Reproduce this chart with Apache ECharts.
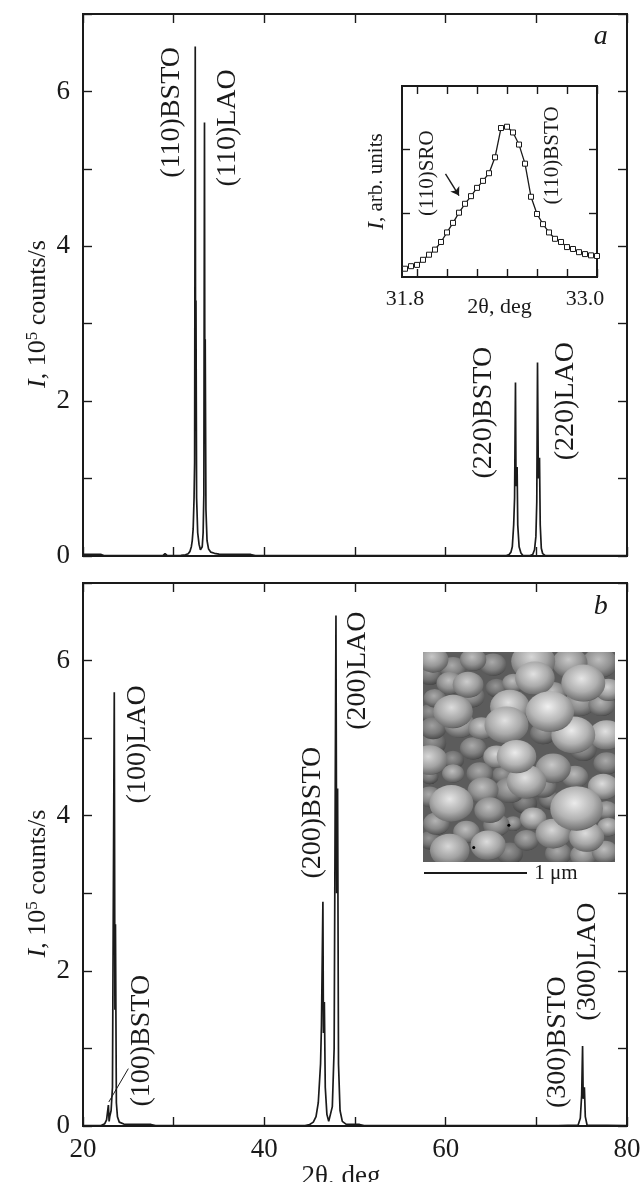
<!DOCTYPE html>
<html><head><meta charset="utf-8">
<style>html,body{margin:0;padding:0;background:#fff}#c{width:644px;height:1182px}</style>
<script src="https://cdn.jsdelivr.net/npm/echarts@6/dist/echarts.min.js"></script>
</head><body><div id="c"></div>
<script>
const xA=[20,21,22,22.3,24,28.8,29.05,29.3,30.8,31.3,31.6,31.8,31.95,32.05,32.15,32.25,32.31,32.38,32.42,32.46,32.53,32.65,32.8,32.95,33.05,33.15,33.25,33.33,33.4,33.44,33.48,33.56,33.68,33.85,34.1,34.5,35,37,38,38.5,39,42,66.7,67,67.2,67.35,67.5,67.6,67.7,67.76,67.88,67.95,68.1,68.3,68.5,69.3,69.6,69.8,69.95,70.05,70.13,70.22,70.35,70.43,70.55,70.7,71,80];
const yA=[.02,.02,.02,.005,.005,.005,.03,.005,.01,.015,.03,.06,.12,.2,.35,.75,1.2,6.58,2,3.3,.75,.3,.15,.08,.07,.12,.3,.8,5.6,2,2.8,.6,.2,.09,.05,.035,.025,.02,.02,.02,.005,.005,.005,.02,.05,.12,.4,.75,2.24,.9,1.15,.4,.12,.04,.01,.005,.02,.08,.25,.7,2.5,1,1.27,.4,.1,.03,.005,.005];
const xB=[20,22,22.4,22.6,22.7,22.8,22.88,22.95,23.1,23.25,23.45,23.52,23.58,23.68,23.8,24,24.5,26,27.5,28,44.5,45,45.4,45.7,45.95,46.2,46.3,46.46,46.52,46.62,46.72,46.9,47.1,47.3,47.5,47.7,47.9,47.98,48.08,48.18,48.35,48.6,49,50.5,51,54,54.2,54.5,72,72.2,72.4,74.6,74.85,75,75.1,75.17,75.3,75.4,75.6,80];
const yB=[.005,.005,.03,.08,.1,.27,.06,.12,.2,.5,5.59,1.5,2.6,.3,.12,.05,.025,.02,.02,.005,.005,.02,.05,.12,.3,.8,1.3,2.89,1.2,1.6,.5,.15,.06,.08,.25,1,6.58,3,4.35,.8,.2,.06,.025,.02,.005,.005,.02,.005,.005,.015,.005,.01,.1,.4,1.03,.35,.5,.12,.01,.005];
const xInset=[31.72,31.76,31.80,31.84,31.88,31.92,31.96,32.00,32.04,32.08,32.12,32.16,32.20,32.24,32.28,32.32,32.36,32.40,32.44,32.48,32.52,32.56,32.60,32.64,32.68,32.72,32.76,32.80,32.84,32.88,32.92,32.96,33.00];
const yInset=[.13,.17,.19,.27,.35,.43,.55,.70,.85,1.01,1.15,1.27,1.40,1.51,1.63,1.88,2.34,2.36,2.27,2.08,1.78,1.26,.99,.83,.70,.60,.55,.47,.44,.39,.36,.34,.33];
const yTickLabels=[0,2,4,6];
const xTickLabels=[20,40,60,80];
const xTicks=[20,30,40,50,60,70,80];
const insetXTicks=[31.8,32.0,32.2,32.4,32.6,32.8,33.0];
const insetXLabels=[31.8,33.0];
const insetYTicks=[1,2];
const labelsA=[["(110)BSTO",29.8,5.73],["(110)LAO",36,5.53],["(220)BSTO",64.2,1.85],["(220)LAO",73.2,2.0]];
const labelsB=[["(100)LAO",26,4.92],["(100)BSTO",26.5,1.1],["(200)BSTO",45.3,4.04],["(200)LAO",50.3,5.87],["(300)BSTO",72.4,1.08],["(300)LAO",75.7,2.12]];
const labelsInset=[["(110)SRO",31.87,1.63],["(110)BSTO",32.7,1.91]];
const leaderB=[[25,.74],[22.85,.31]];
const arrowInset=[[31.99,1.62],[32.08,1.28]];
// AFM grains: column, row, radius, brightness
const grains=[[30,23,35,200],[90,48,30,170],[150,23,30,190],[210,38,30,170],[330,28,50,215],[440,33,40,200],[530,33,40,190],[20,68,28,150],[80,93,30,190],[135,98,35,205],[220,108,25,150],[270,93,25,190],[335,78,45,225],[390,123,30,190],[480,93,50,230],[555,113,30,210],[35,138,25,170],[145,133,30,170],[90,178,45,220],[20,183,25,150],[260,163,45,225],[380,178,55,240],[470,153,35,180],[535,158,30,180],[30,228,30,160],[110,218,35,190],[175,228,30,200],[250,218,50,225],[450,248,50,235],[550,248,40,225],[360,243,30,160],[30,273,30,150],[150,288,30,170],[280,313,45,235],[220,313,30,215],[20,323,40,215],[90,323,25,150],[390,348,40,200],[480,293,30,160],[550,333,30,170],[170,363,30,170],[90,363,25,190],[310,388,45,225],[20,373,20,150],[455,373,30,185],[240,368,25,160],[540,403,35,220],[180,413,35,190],[20,433,28,170],[85,453,50,230],[260,413,35,175],[360,403,30,170],[305,453,28,140],[460,468,60,235],[380,443,25,150],[200,473,35,190],[550,473,25,180],[40,513,30,180],[130,538,30,190],[220,518,30,175],[330,498,30,210],[270,513,20,170],[390,543,40,215],[490,553,40,220],[555,523,25,200],[80,593,45,215],[195,578,40,220],[20,563,25,150],[310,563,28,170],[405,603,30,170],[480,608,30,185],[545,598,30,190],[260,603,30,150]];
const specks=[[257,518],[152,585]];

const FONT='"Liberation Serif","Times New Roman",serif', INK='#1a1a1a';
const gridsDef=[{left:83,top:14,width:544,height:542},{left:83,top:583,width:544,height:543},{left:402,top:86,width:195,height:191},{left:423,top:652,width:192,height:210}];
const grid=gridsDef.map((g,i)=>Object.assign({outerBoundsMode:'none',containLabel:false},g,i<3?{show:true,borderColor:INK,borderWidth:2,backgroundColor:i==2?'#fff':'transparent',z:i==2?3:2}:{show:true,backgroundColor:'#5c5c5c',borderWidth:0}));

function xa(gridIndex,pos,min,max,ticks,labels,extra){return Object.assign({type:'value',gridIndex,position:pos,min,max,nameMoveOverlap:false,splitLine:{show:false},axisLine:{show:false,onZero:false},
  axisTick:{show:true,inside:true,length:gridIndex==2?8:9,lineStyle:{color:INK,width:1.4},customValues:ticks},
  axisLabel:labels?{show:true,customValues:labels,fontFamily:FONT,fontSize:gridIndex==2?22:27,color:INK,margin:gridIndex==2?11:10}:{show:false}},extra||{});}
function ya(gridIndex,pos,min,max,ticks,labels,extra){return Object.assign({type:'value',gridIndex,position:pos,min,max,nameMoveOverlap:false,splitLine:{show:false},axisLine:{show:false,onZero:false},
  axisTick:{show:true,inside:true,length:gridIndex==2?8:9,lineStyle:{color:INK,width:1.4},customValues:ticks},
  axisLabel:labels?{show:true,customValues:labels,fontFamily:FONT,fontSize:27,color:INK,margin:13}:{show:false}},extra||{});}
const yT=[0,1,2,3,4,5,6,7];
const richTitle={i:{fontFamily:FONT,fontSize:26,fontStyle:'italic',color:INK},t:{fontFamily:FONT,fontSize:26,color:INK},s:{fontFamily:FONT,fontSize:17,color:INK,padding:[0,0,12,0]}};
const yName=(pad)=>({name:'{i|I}{t|, 10}{s|5}{t| counts/s}',nameLocation:'middle',nameGap:30,nameRotate:90,nameTextStyle:{rich:richTitle,padding:pad}});

const xAxis=[
 xa(0,'bottom',20,80,xTicks,null),xa(0,'top',20,80,xTicks,null),
 xa(1,'bottom',20,80,xTicks,xTickLabels,{name:'2θ, deg',nameLocation:'middle',nameGap:37,nameTextStyle:{fontFamily:FONT,fontSize:27,color:INK,padding:[0,28,0,0]}}),xa(1,'top',20,80,xTicks,null),
 xa(2,'bottom',31.7,33.0,insetXTicks,insetXLabels,{z:4,name:'2θ, deg',nameLocation:'middle',nameGap:19,nameTextStyle:{fontFamily:FONT,fontSize:22,color:INK}}),xa(2,'top',31.7,33.0,insetXTicks,null,{z:4}),
 {type:'value',gridIndex:3,min:0,max:575,show:false}
];
xAxis[4].axisLabel.padding=[0,24,0,0];
xAxis[4].axisLabel.formatter=v=>v.toFixed(1);
const yAxis=[
 ya(0,'left',0,7,yT,yTickLabels,yName([0,0,0,-58])),ya(0,'right',0,7,yT,null),
 ya(1,'left',0,7,yT,yTickLabels,yName([0,0,0,-58])),ya(1,'right',0,7,yT,null,{z:9}),
 ya(2,'left',0,3,insetYTicks,null,{z:4,name:'{i|I}{t|, arb. units}',nameLocation:'middle',nameGap:14,nameRotate:90,nameTextStyle:{rich:{i:{fontFamily:FONT,fontSize:23,fontStyle:'italic',color:INK},t:{fontFamily:FONT,fontSize:21,color:INK}}}}),ya(2,'right',0,3,insetYTicks,null,{z:4}),
 {type:'value',gridIndex:3,min:0,max:628,inverse:true,show:false}
];
const zip=(a,b)=>a.map((v,i)=>[v,b[i]]);
const line=(xi,x,y,z)=>({type:'line',xAxisIndex:xi,yAxisIndex:xi,data:zip(x,y),showSymbol:false,symbol:'none',lineStyle:{color:'#1a1a1a',width:1.7},z:z||3,silent:true,animation:false});
const textLayer=(xi,yi,arr,size,z)=>({type:'scatter',xAxisIndex:xi,yAxisIndex:yi,symbolSize:0,clip:false,z:z||5,silent:true,animation:false,itemStyle:{opacity:1},
  data:arr.map(d=>({value:[d[1],d[2]],label:{show:true,position:'inside',rotate:d[3]===0?0:90,formatter:d[0],fontFamily:FONT,fontSize:size,color:INK,fontStyle:d[4]||'normal'}}))});
const gray=(v)=>{v=Math.round(v);return 'rgb('+v+','+v+','+v+')';};
const byBright=grains.slice().sort((p,q)=>p[3]-q[3]);
const series=[
 line(0,xA,yA),line(2,xB,yB),
 Object.assign(line(4,xInset,yInset,6),{showSymbol:true,symbol:'rect',symbolSize:5,lineStyle:{color:'#1a1a1a',width:1.3},itemStyle:{color:'#fff',borderColor:'#1a1a1a',borderWidth:1}}),
 {type:'scatter',xAxisIndex:6,yAxisIndex:6,z:3,silent:true,animation:false,
  data:byBright.map(g=>({value:[g[0],g[1]],symbolSize:[g[2]*.88,g[2]*.74],itemStyle:{opacity:1,color:{type:'radial',x:.46,y:.38,r:.66,colorStops:[{offset:0,color:gray(g[3])},{offset:.55,color:gray(g[3]*.76)},{offset:.9,color:gray(g[3]*.5)},{offset:1,color:gray(g[3]*.26)}]}}}))},
 {type:'scatter',xAxisIndex:6,yAxisIndex:6,z:3.5,silent:true,animation:false,symbolSize:3,itemStyle:{opacity:1,color:'#000'},data:specks},
 textLayer(0,0,labelsA,28),textLayer(2,2,labelsB,28),textLayer(4,4,labelsInset,21,7),
 textLayer(0,0,[["a",77.1,6.71,0,'italic']],28),textLayer(2,2,[["b",77.1,6.7,0,'italic']],28),
 {type:'line',xAxisIndex:2,yAxisIndex:2,data:leaderB,showSymbol:false,symbol:'none',lineStyle:{color:INK,width:1},silent:true,animation:false,z:4},
 {type:'line',xAxisIndex:4,yAxisIndex:4,data:[],z:7,silent:true,animation:false,markLine:{silent:true,animation:false,symbol:['none','arrow'],symbolSize:8,label:{show:false},lineStyle:{color:INK,width:1.4,type:'solid'},data:[[{coord:arrowInset[0]},{coord:arrowInset[1]}]]}}
];
const mask=(x,y,w,h)=>({type:'rect',shape:{x,y,width:w,height:h},style:{fill:'#fff'},z:8,silent:true});
const graphic=[
 mask(395,625,28,250),mask(423,625,194,27),mask(615,625,11,250),mask(423,862,195,9),
 {type:'line',shape:{x1:424,y1:873,x2:527,y2:873},style:{stroke:INK,lineWidth:2},z:10,silent:true},
 {type:'text',x:556,y:873,style:{text:'1 μm',font:'21px '+FONT,fill:INK,textAlign:'center',textVerticalAlign:'middle'},z:10,silent:true}
];
const chart=echarts.init(document.getElementById('c'),null,{renderer:'canvas'});
chart.setOption({animation:false,backgroundColor:'#fff',grid,xAxis,yAxis,series,graphic,tooltip:{show:false},legend:{show:false}});
</script></body></html>
